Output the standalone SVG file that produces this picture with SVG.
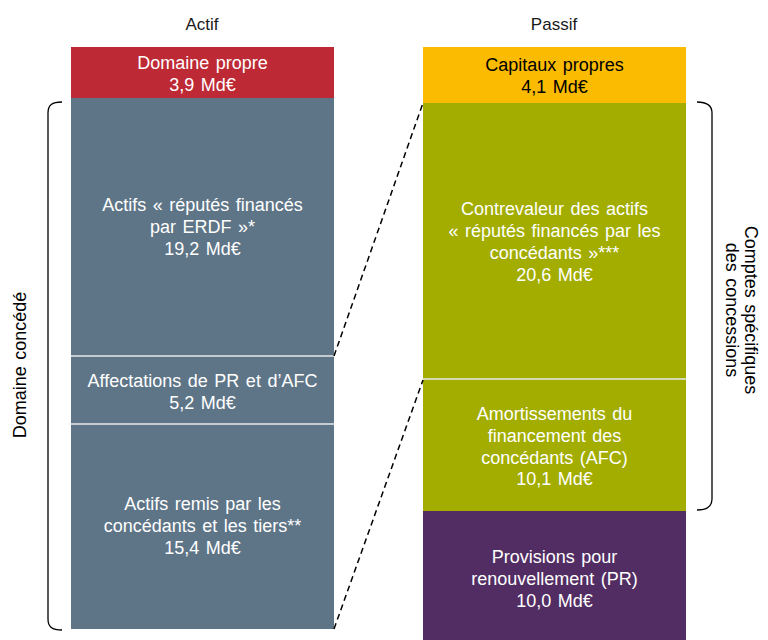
<svg xmlns="http://www.w3.org/2000/svg" width="768" height="640" viewBox="0 0 768 640">
<style>
text{font-family:"Liberation Sans",Arial,sans-serif;font-size:18px;text-anchor:middle;word-spacing:1.5px}
.w{fill:#ffffff}
.k{fill:#000000}
.h{fill:#1a1a1a;font-size:17px}
.sep{stroke:#e8e8e8;stroke-width:1.5}
.dash{stroke:#000;stroke-width:1.5;stroke-dasharray:6 4;fill:none}
.brace{stroke:#000;stroke-width:1.3;fill:none}
</style>
<rect width="768" height="640" fill="#ffffff"/>
<text class="h" x="202" y="30">Actif</text>
<text class="h" x="554" y="30">Passif</text>

<g id="domaine-propre">
<rect x="71" y="47" width="263" height="51" fill="#bd2a35"/>
<text class="w" x="202.5" y="69">Domaine propre</text>
<text class="w" x="202.5" y="91">3,9 Md€</text>
</g>
<g id="actifs-reputes-erdf">
<rect x="71" y="98" width="263" height="258" fill="#5e7587"/>
<text class="w" x="202.5" y="211">Actifs « réputés financés</text>
<text class="w" x="202.5" y="233">par ERDF »*</text>
<text class="w" x="202.5" y="255">19,2 Md€</text>
</g>
<g id="affectations">
<rect x="71" y="356" width="263" height="68" fill="#5e7587"/>
<text class="w" x="202.5" y="387">Affectations de PR et d’AFC</text>
<text class="w" x="202.5" y="409">5,2 Md€</text>
</g>
<g id="actifs-remis">
<rect x="71" y="424" width="263" height="205" fill="#5e7587"/>
<text class="w" x="202.5" y="510">Actifs remis par les</text>
<text class="w" x="202.5" y="532">concédants et les tiers**</text>
<text class="w" x="202.5" y="554">15,4 Md€</text>
</g>
<line class="sep" x1="71" y1="356" x2="334" y2="356"/>
<line class="sep" x1="71" y1="424" x2="334" y2="424"/>

<g id="capitaux-propres">
<rect x="423" y="47" width="263" height="56" fill="#fabb00"/>
<text class="k" x="554.5" y="71">Capitaux propres</text>
<text class="k" x="554.5" y="93">4,1 Md€</text>
</g>
<g id="contrevaleur">
<rect x="423" y="103" width="263" height="276" fill="#a2ad00"/>
<text class="w" x="554.5" y="215">Contrevaleur des actifs</text>
<text class="w" x="554.5" y="237">« réputés financés par les</text>
<text class="w" x="554.5" y="259">concédants »***</text>
<text class="w" x="554.5" y="281">20,6 Md€</text>
</g>
<g id="amortissements">
<rect x="423" y="379" width="263" height="132" fill="#a2ad00"/>
<text class="w" x="554.5" y="420">Amortissements du</text>
<text class="w" x="554.5" y="442">financement des</text>
<text class="w" x="554.5" y="464">concédants (AFC)</text>
<text class="w" x="554.5" y="485">10,1 Md€</text>
</g>
<line class="sep" x1="423" y1="379" x2="686" y2="379"/>
<g id="provisions">
<rect x="423" y="511" width="263" height="129" fill="#522d63"/>
<text class="w" x="554.5" y="563">Provisions pour</text>
<text class="w" x="554.5" y="585">renouvellement (PR)</text>
<text class="w" x="554.5" y="607">10,0 Md€</text>
</g>

<g id="connectors">
<line class="dash" x1="334" y1="356" x2="423" y2="103"/>
<line class="dash" x1="334" y1="629" x2="423" y2="380"/>
</g>

<g id="brace-domaine-concede">
<path class="brace" d="M62,102 C52,102 48,105 48,113 L48,619 C48,627 52,630 62,630"/>
<text class="k" transform="translate(26,365) rotate(-90)">Domaine concédé</text>
</g>
<g id="brace-comptes-specifiques">
<path class="brace" d="M697,102 C707,102 712,105 712,113 L712,499 C712,507 707,510 697,510"/>
<text class="k" transform="translate(745,310) rotate(90)">Comptes spécifiques</text>
<text class="k" transform="translate(726,310) rotate(90)">des concessions</text>
</g>
</svg>
